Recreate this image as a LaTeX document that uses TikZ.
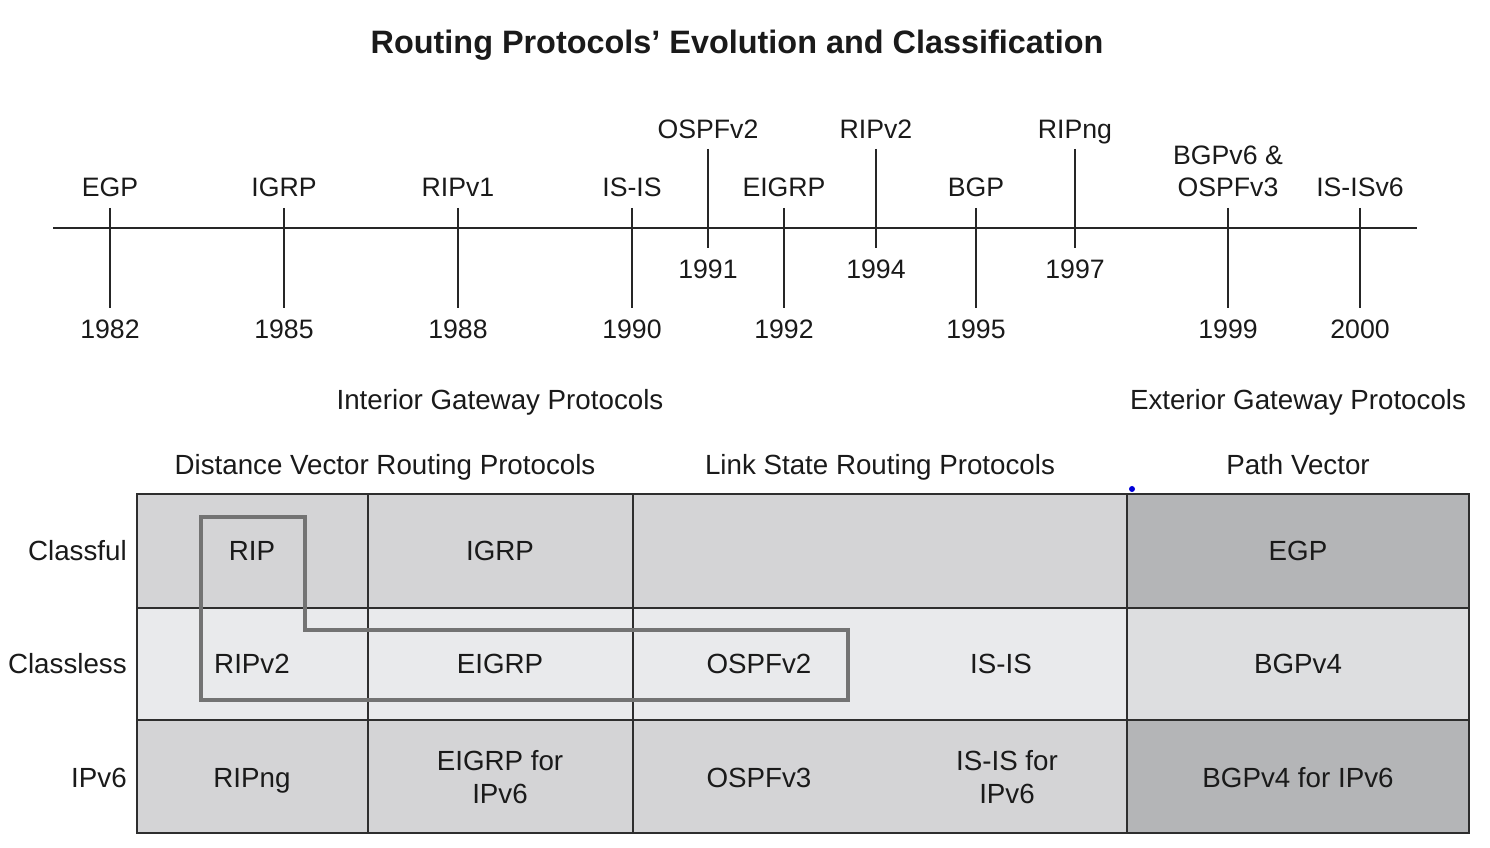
\documentclass[tikz,border=0pt]{standalone}
\usepackage{fontspec}
\setmainfont{Liberation Sans}
\definecolor{cellmid}{HTML}{D4D4D6}
\definecolor{celllight}{HTML}{E9EAEC}
\definecolor{pvdark}{HTML}{B4B5B7}
\definecolor{pvlight}{HTML}{DDDEE0}
\definecolor{gridline}{HTML}{2E2E2E}
\definecolor{outlinegray}{HTML}{737373}
\definecolor{txt}{HTML}{1A1A1A}
\begin{document}
\begin{tikzpicture}[x=0.75pt,y=-0.75pt,
  every node/.style={inner sep=0pt, text=txt},
  lbl/.style={font=\fontsize{20}{24}\selectfont, align=center, text height=14.4pt, text depth=0pt},
  blbl/.style={font=\fontsize{20.8}{25}\selectfont, align=center, text height=15pt, text depth=0pt},
  titlelbl/.style={font=\fontsize{24.3}{29}\selectfont\bfseries, text height=17.5pt, text depth=0pt},
  axisline/.style={draw=black!85, line width=1.1pt},
  tickline/.style={draw=black!85, line width=1.1pt},
  gridl/.style={draw=gridline, line width=1.4pt},
  hilite/.style={draw=outlinegray, line width=2.3pt, line join=miter},
]
\useasboundingbox (0,0) rectangle (1490,848);

% title
\node[titlelbl] (title) at (737,42) {Routing Protocols’ Evolution and Classification};

% timeline axis
\coordinate (axL) at (53,228);
\coordinate (axR) at (1417,228);
\draw[axisline] (axL) -- (axR);

% low ticks: label above at 187, year below at 329
\foreach \n/\x/\name/\yr in {egp/110/EGP/1982, igrp/284/IGRP/1985, ripa/458/RIPv1/1988, isis/632/IS-IS/1990, eigrp/784/EIGRP/1992, bgp/976/BGP/1995, isisv/1360/IS-ISv6/2000}{
  \coordinate (\n-t) at (\x,208);
  \coordinate (\n-b) at (\x,308);
  \draw[tickline] (\n-t) -- (\n-b);
  \node[lbl] (\n-lab) at (\x,187) {\name};
  \node[lbl] (\n-yr) at (\x,329) {\yr};
}
% 1999 tick with two-line label
\coordinate (bgpv-t) at (1228,208);
\coordinate (bgpv-b) at (1228,308);
\draw[tickline] (bgpv-t) -- (bgpv-b);
\node[lbl] (bgpv-lab1) at (1228,155) {BGPv6 \&};
\node[lbl] (bgpv-lab2) at (1228,187) {OSPFv3};
\node[lbl] (bgpv-yr) at (1228,329) {1999};

% high ticks: label above at 129, year below at 269
\foreach \n/\x/\name/\yr in {ospf/708/OSPFv2/1991, ripb/876/RIPv2/1994, ripng/1075/RIPng/1997}{
  \coordinate (\n-t) at (\x,149);
  \coordinate (\n-b) at (\x,248);
  \draw[tickline] (\n-t) -- (\n-b);
  \node[lbl] (\n-lab) at (\x,129) {\name};
  \node[lbl] (\n-yr) at (\x,269) {\yr};
}

% section headings
\node[blbl] (igp) at (500,400) {Interior Gateway Protocols};
\node[blbl] (egph) at (1298,400) {Exterior Gateway Protocols};
\node[blbl] (dv) at (385,465) {Distance Vector Routing Protocols};
\node[blbl] (ls) at (880,465) {Link State Routing Protocols};
\node[blbl] (pv) at (1298,465) {Path Vector};

% cell fills
\fill[cellmid] (137,494) rectangle (1127,608);
\fill[celllight] (137,608) rectangle (1127,720);
\fill[cellmid] (137,720) rectangle (1127,833);
\fill[pvdark] (1127,494) rectangle (1469,608);
\fill[pvlight] (1127,608) rectangle (1469,720);
\fill[pvdark] (1127,720) rectangle (1469,833);

% grid
\draw[gridl] (137,494) rectangle (1469,833);
\draw[gridl] (137,608) -- (1469,608);
\draw[gridl] (137,720) -- (1469,720);
\draw[gridl] (368,494) -- (368,833);
\draw[gridl] (633,494) -- (633,833);
\draw[gridl] (1127,494) -- (1127,833);

% highlight outline
\draw[hilite] (201,517) -- (305,517) -- (305,630) -- (848,630) -- (848,700) -- (201,700) -- cycle;

% row labels
\node[blbl, anchor=east] (rclassful) at (127,551) {Classful};
\node[blbl, anchor=east] (rclassless) at (127,663) {Classless};
\node[blbl, anchor=east] (ripv6) at (127,777) {IPv6};

% cell texts
\node[blbl] (c-rip) at (252,551) {RIP};
\node[blbl] (c-igrp) at (500,551) {IGRP};
\node[blbl] (c-egp) at (1298,551) {EGP};
\node[blbl] (c-ripv2) at (252,663) {RIPv2};
\node[blbl] (c-eigrp) at (500,663) {EIGRP};
\node[blbl] (c-ospfv2) at (759,663) {OSPFv2};
\node[blbl] (c-isis) at (1001,663) {IS-IS};
\node[blbl] (c-bgpv4) at (1298,663) {BGPv4};
\node[blbl] (c-ripng) at (252,777) {RIPng};
\node[blbl] (c-eigrp6a) at (500,760) {EIGRP for};
\node[blbl] (c-eigrp6b) at (500,793) {IPv6};
\node[blbl] (c-ospfv3) at (759,777) {OSPFv3};
\node[blbl] (c-isis6a) at (1007,760) {IS-IS for};
\node[blbl] (c-isis6b) at (1007,793) {IPv6};
\node[blbl] (c-bgp6) at (1298,777) {BGPv4 for IPv6};

% small blue dot
\fill[blue!85!black] (1132,489) circle (3);
\end{tikzpicture}
\end{document}
